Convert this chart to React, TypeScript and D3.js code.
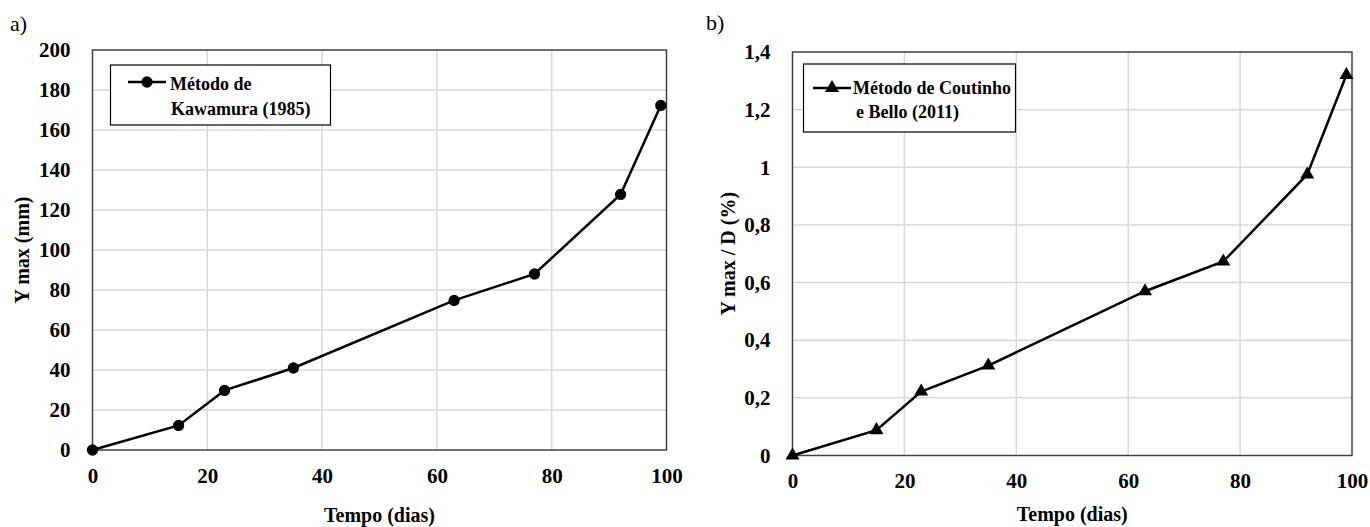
import React, { useEffect, useRef } from 'react';
import * as d3 from 'd3';

// days of measurement (shared by both panels)
const tempoDias = [0, 15, 23, 35, 63, 77, 92, 99];
// panel a) Y max in mm, Kawamura (1985)
const yMaxKawamura = [0, 12.3, 29.8, 41, 74.8, 88, 127.8, 172.3];
// panel b) Y max / D in %, Coutinho e Bello (2011)
const yMaxDCoutinho = [0, 0.088, 0.222, 0.312, 0.57, 0.673, 0.975, 1.32];

const xTicks = [0, 20, 40, 60, 80, 100];
const yTicksA = [0, 20, 40, 60, 80, 100, 120, 140, 160, 180, 200];
const yTicksB = [0, 0.2, 0.4, 0.6, 0.8, 1, 1.2, 1.4];

const legendA = ['Método de', 'Kawamura (1985)'];
const legendB = ['Método de Coutinho', 'e Bello (2011)'];

const FONT = 'Liberation Serif';

function drawPanel(svg, cfg) {
  const { left, right, top, bottom, yMax, yTicks, yFmt, values, marker, legend, lg, tag, yTitle, yTitleX, xLabelY, xTitleY } = cfg;

  const x = d3.scaleLinear().domain([0, 100]).range([left, right]);
  const y = d3.scaleLinear().domain([0, yMax]).range([bottom, top]);

  const g = svg.append('g');

  // gridlines
  g.append('g')
    .selectAll('line')
    .data(yTicks.slice(1, -1))
    .join('line')
    .attr('x1', left).attr('x2', right)
    .attr('y1', d => y(d)).attr('y2', d => y(d))
    .attr('stroke', '#d9d9d9').attr('stroke-width', 1.5);
  g.append('g')
    .selectAll('line')
    .data(xTicks.slice(1, -1))
    .join('line')
    .attr('x1', d => x(d)).attr('x2', d => x(d))
    .attr('y1', top).attr('y2', bottom)
    .attr('stroke', '#d9d9d9').attr('stroke-width', 1.5);

  // frame
  g.append('rect')
    .attr('x', left).attr('y', top)
    .attr('width', right - left).attr('height', bottom - top)
    .attr('fill', 'none').attr('stroke', '#404040').attr('stroke-width', 1.5);

  // y tick labels
  g.append('g')
    .attr('transform', `translate(${left - 22},0)`)
    .call(d3.axisLeft(y).tickValues(yTicks).tickFormat(yFmt).tickSize(0).tickPadding(0))
    .call(s => s.select('.domain').remove())
    .call(s => s.selectAll('text')
      .style('font-family', FONT).style('font-size', '21px').style('font-weight', 'bold').attr('fill', '#000'));

  // x tick labels
  g.append('g')
    .attr('transform', `translate(0,${xLabelY})`)
    .call(d3.axisBottom(x).tickValues(xTicks).tickFormat(d3.format('d')).tickSize(0).tickPadding(0))
    .call(s => s.select('.domain').remove())
    .call(s => s.selectAll('text')
      .attr('dy', '0.35em')
      .style('font-family', FONT).style('font-size', '21px').style('font-weight', 'bold').attr('fill', '#000'));

  // axis titles
  g.append('text')
    .attr('x', (left + right) / 2).attr('y', xTitleY)
    .attr('text-anchor', 'middle')
    .style('font-family', FONT).style('font-size', '20px').style('font-weight', 'bold')
    .text('Tempo (dias)');
  g.append('text')
    .attr('transform', `translate(${yTitleX},${(top + bottom) / 2}) rotate(-90)`)
    .attr('text-anchor', 'middle').attr('dy', '0.35em')
    .style('font-family', FONT).style('font-size', '20px').style('font-weight', 'bold')
    .text(yTitle);

  // panel tag
  g.append('text')
    .attr('x', tag.x).attr('y', tag.y)
    .style('font-family', FONT).style('font-size', '22px')
    .text(tag.text);

  // series
  const pts = tempoDias.map((d, i) => [d, values[i]]);
  const line = d3.line().x(d => x(d[0])).y(d => y(d[1]));
  g.append('path')
    .datum(pts)
    .attr('d', line)
    .attr('fill', 'none').attr('stroke', '#000').attr('stroke-width', 2.5);

  const sym = marker === 'circle'
    ? d3.symbol(d3.symbolCircle, 100)
    : d3.symbol(d3.symbolTriangle, 85);
  g.append('g')
    .selectAll('path')
    .data(pts)
    .join('path')
    .attr('transform', d => `translate(${x(d[0])},${y(d[1])})`)
    .attr('d', sym)
    .attr('fill', '#000');

  // legend
  g.append('rect')
    .attr('x', lg.x).attr('y', lg.y).attr('width', lg.w).attr('height', lg.h)
    .attr('fill', '#fff').attr('stroke', '#000').attr('stroke-width', 1.2);
  g.append('line')
    .attr('x1', lg.lx1).attr('x2', lg.lx2).attr('y1', lg.ly).attr('y2', lg.ly)
    .attr('stroke', '#000').attr('stroke-width', 2.5);
  g.append('path')
    .attr('transform', `translate(${(lg.lx1 + lg.lx2) / 2},${lg.ly})`)
    .attr('d', sym)
    .attr('fill', '#000');
  legend.forEach((t, i) => {
    g.append('text')
      .attr('x', lg.tx + (i ? lg.indent : 0)).attr('y', lg.ty + i * lg.dy)
      .style('font-family', FONT).style('font-size', '18px').style('font-weight', 'bold')
      .text(t);
  });
}

export default function App() {
  const ref = useRef(null);

  useEffect(() => {
    const svg = d3.select(ref.current);
    svg.selectAll('*').remove();

    drawPanel(svg, {
      left: 92.5, right: 666.5, top: 50, bottom: 450,
      yMax: 200, yTicks: yTicksA, yFmt: d3.format('d'),
      values: yMaxKawamura, marker: 'circle', legend: legendA,
      lg: { x: 110.5, y: 65, w: 220, h: 60, lx1: 128, lx2: 166, ly: 82, tx: 170, ty: 90, dy: 25, indent: 1 },
      tag: { x: 10, y: 31, text: 'a)' },
      yTitle: 'Y max (mm)', yTitleX: 22, xLabelY: 476, xTitleY: 522,
    });

    drawPanel(svg, {
      left: 792.5, right: 1352, top: 52, bottom: 455.5,
      yMax: 1.4, yTicks: yTicksB, yFmt: d => String(d).replace('.', ','),
      values: yMaxDCoutinho, marker: 'triangle', legend: legendB,
      lg: { x: 803.5, y: 64, w: 212, h: 68, lx1: 813, lx2: 851, ly: 88, tx: 853, ty: 94, dy: 24, indent: 3 },
      tag: { x: 706, y: 30, text: 'b)' },
      yTitle: 'Y max / D (%)', yTitleX: 728, xLabelY: 481, xTitleY: 521,
    });
  }, []);

  return (
    <svg
      ref={ref}
      width={1370}
      height={527}
      style={{ position: 'absolute', left: 0, top: 0, background: '#fff', fontFamily: FONT }}
    />
  );
}
